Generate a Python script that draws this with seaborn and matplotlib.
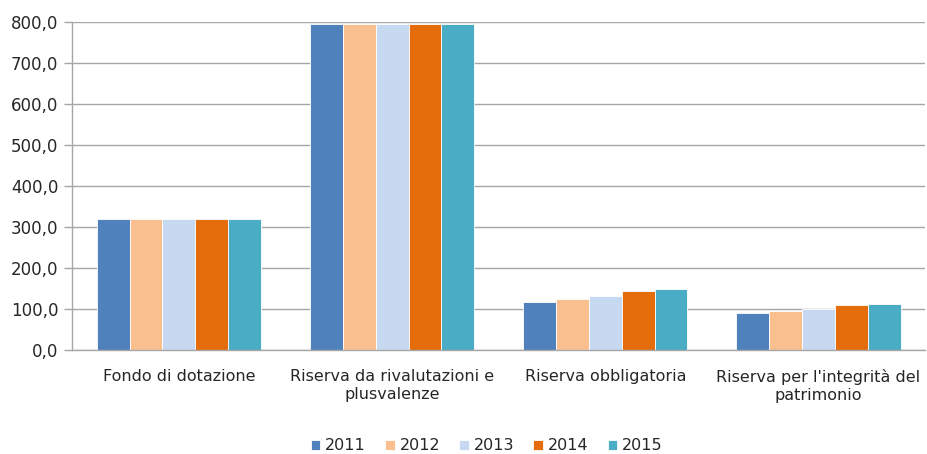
import seaborn as sns
import matplotlib.pyplot as plt
import matplotlib.ticker as mticker
import pandas as pd

categorie = ["Fondo di dotazione", "Riserva da rivalutazioni e\nplusvalenze",
             "Riserva obbligatoria", "Riserva per l'integrità del\npatrimonio"]
anni = ["2011", "2012", "2013", "2014", "2015"]
v2011 = [320, 795, 117, 90]
v2012 = [320, 795, 124, 95]
v2013 = [320, 795, 133, 101]
v2014 = [320, 795, 144, 110]
v2015 = [320, 795, 149, 112]
colori = ["#4F81BD", "#FABF8F", "#C6D9F1", "#E46C0A", "#4BACC6"]

rows = []
for anno, vals in zip(anni, [v2011, v2012, v2013, v2014, v2015]):
    for c, v in zip(categorie, vals):
        rows.append({"categoria": c, "anno": anno, "valore": v})
df = pd.DataFrame(rows)

sns.set_style("white")
plt.rcParams['font.family'] = ['DejaVu Sans']

fig = plt.figure(figsize=(9.27, 4.54), dpi=100)
ax = fig.add_axes([0.078, 0.229, 0.92, 0.722])

sns.barplot(data=df, x="categoria", y="valore", hue="anno", palette=colori,
            saturation=1, width=0.77, linewidth=0.6, edgecolor="white",
            ax=ax, legend=True)

ax.set_ylim(0, 800)
ax.set_xlim(-0.5, 3.5)
ax.yaxis.set_major_locator(mticker.MultipleLocator(100))
ax.yaxis.set_major_formatter(mticker.FuncFormatter(lambda v, p: f"{v:.1f}".replace(".", ",")))
ax.grid(axis="y", color="#A6A6A6", linewidth=1)
ax.set_axisbelow(True)
ax.set_xlabel("")
ax.set_ylabel("")

for s in ["top", "right"]:
    ax.spines[s].set_visible(False)
for s in ["left", "bottom"]:
    ax.spines[s].set_color("#A6A6A6")
    ax.spines[s].set_linewidth(1)

ax.tick_params(axis="x", length=0, pad=14, labelsize=11.5, colors="#262626")
ax.set_xticks([-0.5, 0.5, 1.5, 2.5, 3.5], minor=True)
ax.tick_params(axis="x", which="minor", length=6, color="#A6A6A6", width=1)
ax.tick_params(axis="y", length=6, color="#A6A6A6", width=1, labelsize=12,
               labelcolor="#262626", left=True, pad=4)

h, l = ax.get_legend_handles_labels()
ax.get_legend().remove()
fig.legend(h, l, loc="lower center", ncol=5, frameon=False, fontsize=11.5,
           handlelength=0.6, handleheight=0.6, handletextpad=0.3,
           columnspacing=1.2, bbox_to_anchor=(0.525, -0.03))

fig.savefig("out.png", dpi=100)
